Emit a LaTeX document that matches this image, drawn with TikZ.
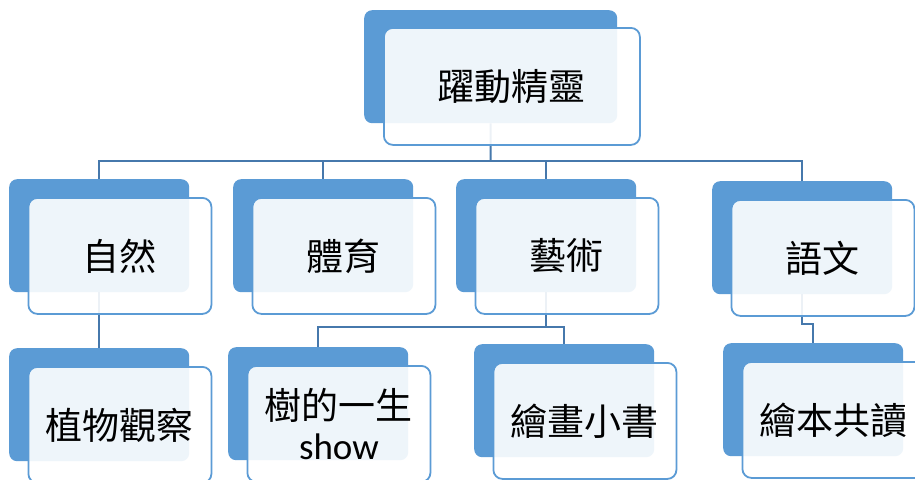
\documentclass[tikz,border=0pt]{standalone}
\usepackage{fontspec}
\setmainfont{Carlito}
\newfontfamily\cjk{Noto Sans CJK TC}
\usetikzlibrary{positioning}
\definecolor{boxblue}{RGB}{91,155,213}
\definecolor{linkblue}{RGB}{70,120,172}
\begin{document}
\begin{tikzpicture}[x = 1pt, y = -1pt,
    back/.style = {fill = boxblue, rounded corners = 8pt, inner sep = 0pt,
      minimum width = 180pt, minimum height = 113pt, anchor = north west},
    front/.style = {draw = boxblue, line width = 1.8pt, fill = white,
      fill opacity = 0.9, text opacity = 1, rounded corners = 9pt,
      inner sep = 0pt, minimum width = 183pt, minimum height = 116pt,
      align = center, font = \cjk\fontsize{37}{40}\selectfont},
    link/.style = {draw = linkblue, line width = 2pt}]
      \useasboundingbox[fill = white] (0,0) rectangle (915,479);
      % back boxes
      \node(sprite-b) [back, minimum width = 253pt] at (364, 10) {};
      \foreach \n/\x/\y in {nature/9/179, sport/233/179, art/456/179,
        lang/712/181, plant/9/348, tree/228/347, paint/474/344, book/723/343}{
        \node(\n-b) [back] at (\x, \y) {};
      }
      % connectors
      \coordinate(bus) at (490.5, 161);
      \path (art-b.south) ++(0, 35) coordinate(artbus);
      \path (lang-b.south) ++(0, 30) coordinate(langbus);
      \draw[link] (sprite-b.south) -- (bus);
      \foreach \n in {nature, sport, art, lang}{
        \draw[link] (bus) -| (\n-b.north);
      }
      \draw[link] (nature-b.south) -- (plant-b.north);
      \draw[link] (art-b.south) -- (artbus) -| (tree-b.north);
      \draw[link] (artbus) -| (paint-b.north);
      \draw[link] (lang-b.south) -- (langbus) -| (book-b.north);
      % front boxes
      \node(sprite) [front, minimum width = 256pt, minimum height = 117pt,
        below right = 17pt and 19pt of sprite-b.north west] {躍動精靈};
      \foreach \n/\txt in {nature/自然, sport/體育, art/藝術, lang/語文,
        plant/植物觀察, tree/{樹的一生\\\rmfamily show}, paint/繪畫小書,
        book/繪本共讀}{
        \node(\n) [front, below right = 18pt and 18.5pt of \n-b.north west] {\txt};
      }
    \end{tikzpicture}
\end{document}
